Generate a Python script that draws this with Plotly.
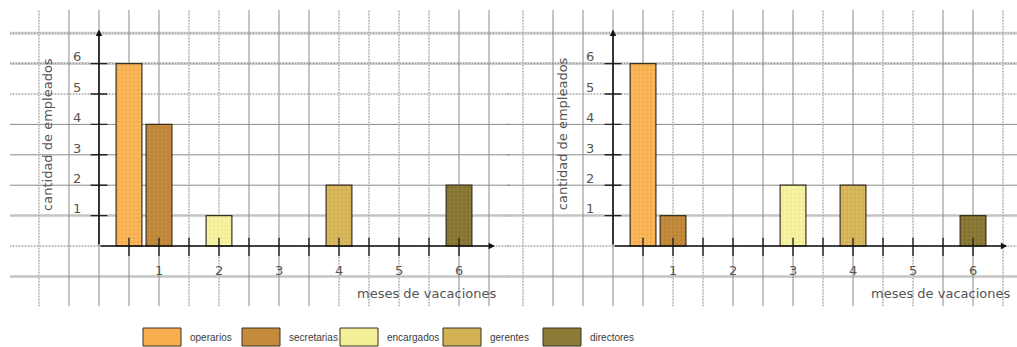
import plotly.graph_objects as go

# ---------------- data ----------------
series = ["operarios", "secretarias", "encargados", "gerentes", "directores"]
colors = ["#F7AE4E", "#C48B3D", "#F3EE98", "#D3B256", "#8B7B36"]
pattern_colors = ["#FCD27A", "#A8742C", "#FFFFC8", "#E8CC70", "#6E6026"]

# chart 1
pos_1 = [0.5, 1, 2, 4, 6]
val_1 = [6, 4, 1, 2, 2]
# chart 2
pos_2 = [0.5, 1, 3, 4, 6]
val_2 = [6, 1, 2, 2, 1]

x_tick_vals = [1, 2, 3, 4, 5, 6]
x_tick_text = ["1", "2", "3", "4", "5", "6"]
y_tick_vals = [1, 2, 3, 4, 5, 6]
y_tick_text = ["1", "2", "3", "4", "5", "6"]
x_minor_ticks = [0.5, 1, 1.5, 2, 2.5, 3, 3.5, 4, 4.5, 5, 5.5, 6]

y_title = "cantidad de empleados"
x_title = "meses de vacaciones"

# graph-paper grid (positions in axis units) and line style per line
vgrid_1 = [-1, -0.5, 0, 0.5, 1, 1.5, 2, 2.5, 3, 3.5, 4, 4.5, 5, 5.5, 6, 6.5]
vstyle_1 = ["d", "s", "s", "s", "s", "d", "d", "s", "s", "s", "d", "d", "d", "d", "s", "s"]
vgrid_2 = [-1.5, -1, -0.5, 0, 0.5, 1, 1.5, 2, 2.5, 3, 3.5, 4, 4.5, 5, 5.5, 6, 6.5]
vstyle_2 = ["d", "s", "s", "s", "s", "d", "d", "s", "s", "s", "d", "s", "d", "d", "s", "s", "d"]
hgrid = [-1, 0, 1, 2, 3, 4, 5, 6, 7]
hstyle = ["b", "d", "b", "s", "s", "s", "d", "bd", "bd"]

W, H = 1017, 347

fig = go.Figure()

for i, name in enumerate(series):
    for k, (pos, val) in enumerate([(pos_1, val_1), (pos_2, val_2)]):
        fig.add_trace(go.Bar(
            x=[pos[i]], y=[val[i]], name=name,
            xaxis="x" if k == 0 else "x2", yaxis="y" if k == 0 else "y2",
            width=0.43, showlegend=False, hoverinfo="skip",
            marker=dict(color=colors[i], line=dict(color="#3a3020", width=1.2),
                        pattern=dict(shape=".", fgcolor=pattern_colors[i], size=4, solidity=0.25)),
        ))

def px_x(p):
    return p / W

def px_y(p):
    return 1 - p / H

grid = dict(showgrid=False, zeroline=False, showticklabels=False, ticks="",
            showline=False, fixedrange=True)

y_range = [-1.98, 7.763]
y_dom = [px_y(246 + 1.98 * 30.4), px_y(10)]

fig.update_layout(
    width=W, height=H, margin=dict(l=0, r=0, t=0, b=0),
    paper_bgcolor="white", plot_bgcolor="rgba(0,0,0,0)",
    barmode="overlay",
    xaxis=dict(domain=[px_x(10), px_x(510)], range=[-1.483, 6.85], **grid),
    yaxis=dict(domain=y_dom, range=y_range, **grid),
    xaxis2=dict(domain=[px_x(507), 1], range=[-1.767, 6.733], anchor="y2", **grid),
    yaxis2=dict(domain=y_dom, range=y_range, anchor="x2", **grid),
)

shapes = []
annots = []

def line_styles(code):
    if code == "s":
        return [dict(color="#8a8a8a", width=1)]
    if code == "d":
        return [dict(color="#d2d2d2", width=1), dict(color="#8a8a8a", width=1, dash="1px,2px")]
    if code == "b":
        return [dict(color="#c4c4c4", width=2.5)]
    return [dict(color="#d0d0d0", width=3), dict(color="#8a8a8a", width=1, dash="1px,2px")]

for xr, yr, vg, vs in [("x", "y", vgrid_1, vstyle_1), ("x2", "y2", vgrid_2, vstyle_2)]:
    for v, st in zip(hgrid, hstyle):
        for ln in line_styles(st):
            shapes.append(dict(type="line", layer="below", xref=xr + " domain", yref=yr,
                               x0=0, x1=1, y0=v, y1=v, line=ln))
    for v, st in zip(vg, vs):
        for ln in line_styles(st):
            shapes.append(dict(type="line", layer="below", xref=xr, yref=yr + " domain",
                               x0=v, x1=v, y0=0, y1=1, line=ln))

tick_font = dict(family="DejaVu Sans", size=13, color="#555555")
for xr, yr, xarrow, ylab_x, ytitle_x in [("x", "y", 6.6, -0.37, -0.87), ("x2", "y2", 6.57, -0.38, -0.85)]:
    # axes with arrows
    annots.append(dict(x=xarrow, y=0, ax=0, ay=0, xref=xr, yref=yr, axref=xr, ayref=yr,
                       showarrow=True, arrowhead=2, arrowsize=0.8, arrowwidth=1.6,
                       arrowcolor="#111111", text=""))
    annots.append(dict(x=0, y=7.12, ax=0, ay=0, xref=xr, yref=yr, axref=xr, ayref=yr,
                       showarrow=True, arrowhead=2, arrowsize=0.8, arrowwidth=1.6,
                       arrowcolor="#111111", text=""))
    # tick marks
    for v in y_tick_vals:
        shapes.append(dict(type="line", xref=xr, yref=yr, x0=-0.14, x1=0.14, y0=v, y1=v,
                           line=dict(color="#222222", width=1.4)))
    for v in x_minor_ticks:
        shapes.append(dict(type="line", xref=xr, yref=yr, x0=v, x1=v, y0=-0.33, y1=0.27,
                           line=dict(color="#222222", width=1.4)))
    # tick labels
    for v, t in zip(y_tick_vals, y_tick_text):
        annots.append(dict(x=ylab_x, y=v + 0.22, xref=xr, yref=yr, text=t, showarrow=False,
                           font=tick_font, xanchor="center", yanchor="middle"))
    for v, t in zip(x_tick_vals, x_tick_text):
        annots.append(dict(x=v, y=-0.8, xref=xr, yref=yr, text=t, showarrow=False,
                           font=tick_font, xanchor="center", yanchor="middle"))
    # axis titles
    annots.append(dict(x=ytitle_x, y=3.68, xref=xr, yref=yr, text=y_title, textangle=-90,
                       showarrow=False, font=tick_font, xanchor="center", yanchor="middle"))
    annots.append(dict(x=6.65, y=-1.55, xref=xr, yref=yr, text=x_title, showarrow=False,
                       font=tick_font, xanchor="right", yanchor="middle"))

# custom legend
leg_x = [143, 242, 340, 443, 543]
for i, name in enumerate(series):
    x0 = leg_x[i]
    shapes.append(dict(type="rect", xref="paper", yref="paper",
                       x0=px_x(x0), x1=px_x(x0 + 38), y0=px_y(346), y1=px_y(328),
                       fillcolor=colors[i], line=dict(color="#3a3020", width=1)))
    annots.append(dict(x=px_x(x0 + 45), y=px_y(337), xref="paper", yref="paper", text=name,
                       showarrow=False, xanchor="left", yanchor="middle",
                       font=dict(family="Liberation Sans", size=10, color="#3a3a3a")))

fig.update_layout(shapes=shapes, annotations=annots)
fig.write_html("out.html", config={"displayModeBar": False},
               post_script="document.body.style.margin='0';document.body.style.overflow='hidden';")
